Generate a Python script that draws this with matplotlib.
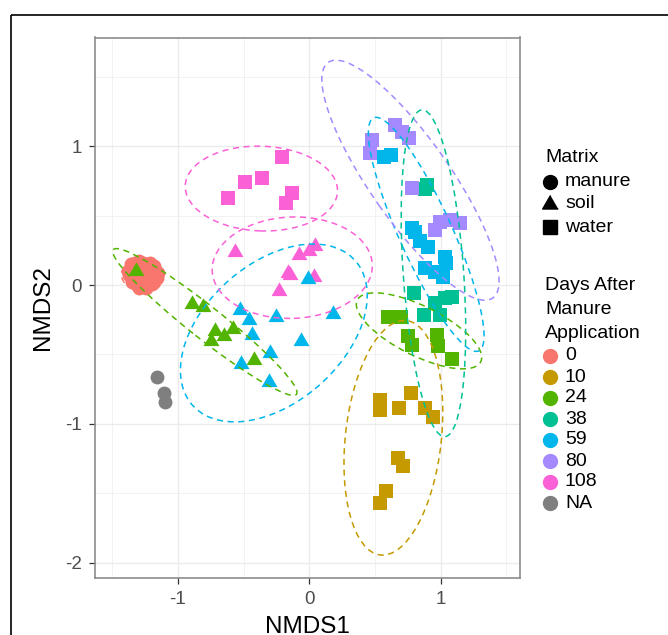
import matplotlib
matplotlib.use("Agg")
import matplotlib.pyplot as plt
from matplotlib.patches import Ellipse, Rectangle
import numpy as np

plt.rcParams['font.family'] = ['Liberation Sans', 'DejaVu Sans']
plt.rcParams['axes.unicode_minus'] = False

# -------------------------------
# data
# -------------------------------
days = ["0", "10", "24", "38", "59", "80", "108", "NA"]
day_colors = ["#F8766D", "#C49A00", "#53B400", "#00C094",
              "#00B6EB", "#A58AFF", "#FB61D7", "#7F7F7F"]
matrix_names = ["manure", "soil", "water"]

# day 0, manure (dense cluster)
d0_manure_x = [-1.36, -1.33, -1.30, -1.27, -1.24, -1.21, -1.18, -1.35, -1.32, -1.29,
               -1.26, -1.23, -1.20, -1.17, -1.37, -1.34, -1.31, -1.28, -1.25, -1.22,
               -1.19, -1.16, -1.33, -1.30, -1.27, -1.24, -1.21, -1.18, -1.35, -1.32,
               -1.29, -1.26, -1.23, -1.20, -1.30, -1.27, -1.24, -1.21, -1.38, -1.15]
d0_manure_y = [0.15, 0.16, 0.17, 0.16, 0.15, 0.16, 0.14, 0.11, 0.12, 0.13,
               0.12, 0.11, 0.12, 0.10, 0.07, 0.08, 0.09, 0.08, 0.07, 0.08,
               0.06, 0.05, 0.04, 0.05, 0.04, 0.03, 0.04, 0.02, 0.02, 0.01,
               0.00, 0.01, 0.00, 0.01, -0.02, -0.01, -0.02, 0.06, 0.10, 0.09]

na_manure_x = [-1.16, -1.11, -1.10]
na_manure_y = [-0.66, -0.78, -0.84]

d24_soil_x = [-1.32, -0.89, -0.81, -0.72, -0.75, -0.65, -0.58, -0.42]
d24_soil_y = [0.10, -0.14, -0.16, -0.33, -0.40, -0.37, -0.32, -0.54]
d24_water_x = [0.60, 0.70, 0.75, 0.78, 0.97, 0.98, 1.085]
d24_water_y = [-0.23, -0.23, -0.37, -0.43, -0.36, -0.44, -0.535]

d59_soil_x = [-0.53, -0.46, -0.25, 0.18, -0.44, -0.06, -0.30, -0.52, -0.31, -0.01]
d59_soil_y = [-0.18, -0.25, -0.23, -0.21, -0.36, -0.40, -0.49, -0.57, -0.70, 0.04]
d59_water_x = [0.57, 0.62, 0.78, 0.805, 0.843, 0.906, 1.033, 1.04, 0.88, 0.957, 1.02]
d59_water_y = [0.92, 0.94, 0.41, 0.38, 0.32, 0.276, 0.204, 0.16, 0.12, 0.096, 0.06]

d80_water_x = [0.477, 0.462, 0.652, 0.703, 0.756, 0.78, 0.995, 0.957, 1.071, 1.147]
d80_water_y = [1.045, 0.949, 1.153, 1.105, 1.057, 0.70, 0.456, 0.396, 0.468, 0.444]

d38_water_x = [0.894, 0.88, 0.794, 1.033, 0.957, 0.87, 0.995, 1.084]
d38_water_y = [0.72, 0.69, -0.055, -0.096, -0.13, -0.216, -0.216, -0.084]

d10_water_x = [0.538, 0.54, 0.685, 0.774, 0.88, 0.945, 0.676, 0.714, 0.587, 0.537]
d10_water_y = [-0.83, -0.90, -0.884, -0.776, -0.888, -0.953, -1.247, -1.30, -1.482, -1.57]

d108_soil_x = [-0.565, -0.076, 0.0, 0.043, -0.16, -0.15, -0.23, 0.033]
d108_soil_y = [0.24, 0.215, 0.246, 0.28, 0.09, 0.07, -0.04, 0.055]
d108_water_x = [-0.21, -0.36, -0.49, -0.62, -0.13, -0.18]
d108_water_y = [0.92, 0.77, 0.74, 0.63, 0.66, 0.59]

# ellipses per group: (day index, centre x, centre y, semi-major, semi-minor, angle deg)
ell_day = [0, 2, 2, 4, 4, 5, 3, 1, 6, 6]
ell_cx = [-1.28, -0.795, 0.835, -0.27, 0.89, 0.77, 0.945, 0.64, -0.365, -0.13]
ell_cy = [0.075, -0.266, -0.33, -0.345, 0.365, 0.755, 0.085, -1.10, 0.695, 0.125]
ell_a = [0.15, 0.87, 0.52, 0.81, 0.93, 1.055, 1.18, 0.85, 0.58, 0.61]
ell_b = [0.11, 0.12, 0.18, 0.51, 0.20, 0.30, 0.23, 0.365, 0.305, 0.365]
ell_ang = [0, -36.7, -25, 38, -64.4, -53.3, -85.7, 83.2, -2, 2]

# -------------------------------
# figure
# -------------------------------
W, H = 668, 635
fig = plt.figure(figsize=(W / 100, H / 100), dpi=100)
ax = fig.add_axes([94.7 / W, 1 - 578 / H, (520 - 94.7) / W, (578 - 37.5) / H])

tri = [(0, 1), (-0.866, -0.5), (0.866, -0.5)]
S_CIRC, S_SQ, S_TRI = 100, 92, 175

groups = [
    (d0_manure_x, d0_manure_y, 0, "o", S_CIRC),
    (na_manure_x, na_manure_y, 7, "o", S_CIRC),
    (d10_water_x, d10_water_y, 1, "s", S_SQ),
    (d24_water_x, d24_water_y, 2, "s", S_SQ),
    (d38_water_x, d38_water_y, 3, "s", S_SQ),
    (d80_water_x, d80_water_y, 5, "s", S_SQ),
    (d59_water_x, d59_water_y, 4, "s", S_SQ),
    (d108_water_x, d108_water_y, 6, "s", S_SQ),
    (d108_soil_x, d108_soil_y, 6, tri, S_TRI),
    (d24_soil_x, d24_soil_y, 2, tri, S_TRI),
    (d59_soil_x, d59_soil_y, 4, tri, S_TRI),
]
for gx, gy, di, mk, sz in groups:
    ax.scatter(gx, gy, s=sz, marker=mk, color=day_colors[di], linewidths=0, zorder=3)

for di, cx, cy, a, b, ang in zip(ell_day, ell_cx, ell_cy, ell_a, ell_b, ell_ang):
    ax.add_patch(Ellipse((cx, cy), 2 * a, 2 * b, angle=ang, fill=False,
                         edgecolor=day_colors[di], linewidth=1.1,
                         linestyle=(0, (4, 3)), zorder=4))

ax.set_xlim(-1.634, 1.604)
ax.set_ylim(-2.11, 1.783)
ax.set_xticks([-1, 0, 1])
ax.set_xticks([-1.5, -0.5, 0.5, 1.5], minor=True)
ax.set_yticks([-2, -1, 0, 1])
ax.set_yticks([-1.5, -0.5, 0.5, 1.5], minor=True)
ax.grid(which="major", color="#EBEBEB", linewidth=1.0, zorder=0)
ax.grid(which="minor", color="#F2F2F2", linewidth=0.7, zorder=0)
ax.set_axisbelow(True)
ax.tick_params(which="major", length=4, width=0.9, color="#333333",
               labelsize=13.5, labelcolor="#4D4D4D", pad=5)
ax.tick_params(which="minor", length=0)
for sp in ax.spines.values():
    sp.set_color("#8C8C8C")
    sp.set_linewidth(1.2)
ax.set_xlabel("NMDS1", fontsize=17.5, labelpad=6)
ax.set_ylabel("NMDS2", fontsize=17.5, labelpad=8)

# -------------------------------
# legend + outer frame (pixel overlay)
# -------------------------------
lax = fig.add_axes([0, 0, 1, 1], zorder=-1 if False else 5)
lax.set_xlim(0, W)
lax.set_ylim(H, 0)
lax.axis("off")
lax.patch.set_alpha(0)

lax.add_patch(Rectangle((11, 15), 700, 700, fill=False, edgecolor="black", linewidth=1.2))

LX, TX = 550, 565
lax.text(545, 158, "Matrix", fontsize=14, va="center", ha="left")
key_y = [182, 204, 227]
key_m = ["o", tri, "s"]
key_ms = [10, 13, 9.6]
for ky, km, kms, name in zip(key_y, key_m, key_ms, matrix_names):
    lax.plot([LX], [ky], marker=km, markersize=kms, color="black", linestyle="none")
    lax.text(TX, ky, name, fontsize=14, va="center", ha="left")

lax.text(545, 285, "Days After", fontsize=14, va="center", ha="left")
lax.text(545, 309, "Manure", fontsize=14, va="center", ha="left")
lax.text(545, 333, "Application", fontsize=14, va="center", ha="left")
for i, (lab, col) in enumerate(zip(days, day_colors)):
    ky = 356 + i * 21
    lax.plot([LX], [ky], marker="o", markersize=10, color=col, linestyle="none")
    lax.text(TX, ky, lab, fontsize=14, va="center", ha="left")

fig.savefig("out.png", dpi=100)
